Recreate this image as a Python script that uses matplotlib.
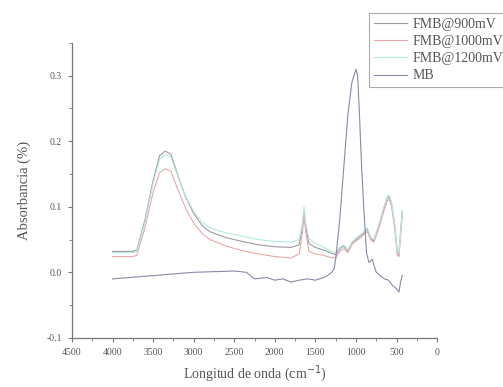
import matplotlib
matplotlib.use("Agg")
import matplotlib.pyplot as plt
from matplotlib.ticker import MultipleLocator

plt.rcParams['font.family'] = ['Liberation Serif', 'DejaVu Serif']

# --- FMB spectra (shared wavenumber grid) ---
wn_fmb = [4000, 3750, 3700, 3600, 3500, 3420, 3350, 3280, 3200, 3100, 3000, 2900, 2800,
          2600, 2400, 2200, 2000, 1800, 1700, 1660, 1640, 1620, 1580, 1500, 1400, 1300,
          1250, 1200, 1150, 1100, 1050, 1000, 950, 900, 860, 820, 780, 720, 660, 620,
          590, 560, 520, 490, 470, 450, 430]

fmb_900 = [0.032, 0.032, 0.034, 0.080, 0.140, 0.178, 0.185, 0.180, 0.150, 0.115, 0.090,
           0.072, 0.062, 0.053, 0.047, 0.042, 0.039, 0.038, 0.042, 0.070, 0.096, 0.070,
           0.044, 0.038, 0.034, 0.029, 0.027, 0.036, 0.040, 0.032, 0.045, 0.050, 0.055,
           0.060, 0.066, 0.052, 0.048, 0.070, 0.096, 0.112, 0.116, 0.104, 0.068, 0.030,
           0.026, 0.060, 0.092]

fmb_1000 = [0.024, 0.024, 0.026, 0.068, 0.122, 0.152, 0.158, 0.154, 0.128, 0.098, 0.075,
            0.060, 0.050, 0.040, 0.033, 0.028, 0.024, 0.022, 0.028, 0.060, 0.090, 0.062,
            0.032, 0.028, 0.026, 0.022, 0.022, 0.032, 0.036, 0.030, 0.042, 0.048, 0.052,
            0.058, 0.062, 0.050, 0.046, 0.066, 0.092, 0.108, 0.112, 0.100, 0.064, 0.026,
            0.024, 0.056, 0.088]

fmb_1200 = [0.030, 0.030, 0.032, 0.076, 0.136, 0.172, 0.180, 0.176, 0.148, 0.116, 0.093,
            0.077, 0.068, 0.060, 0.055, 0.050, 0.047, 0.046, 0.050, 0.074, 0.100, 0.076,
            0.052, 0.044, 0.038, 0.032, 0.030, 0.038, 0.042, 0.034, 0.046, 0.052, 0.057,
            0.062, 0.068, 0.054, 0.050, 0.072, 0.098, 0.114, 0.118, 0.106, 0.070, 0.032,
            0.028, 0.062, 0.094]

# --- MB spectrum ---
wn_mb = [4000, 3500, 3000, 2500, 2350, 2250, 2100, 2000, 1900, 1800, 1700, 1600, 1500,
         1400, 1350, 1300, 1270, 1250, 1200, 1150, 1100, 1050, 1000, 980, 960, 930, 900,
         870, 840, 800, 750, 700, 650, 600, 550, 500, 470, 450, 430]

mb = [-0.010, -0.005, 0.000, 0.002, 0.000, -0.010, -0.008, -0.012, -0.010, -0.015,
      -0.012, -0.010, -0.012, -0.008, -0.005, 0.000, 0.005, 0.020, 0.080, 0.160, 0.240,
      0.290, 0.310, 0.300, 0.250, 0.160, 0.090, 0.030, 0.015, 0.020, 0.000, -0.005,
      -0.010, -0.012, -0.020, -0.025, -0.030, -0.015, -0.005]

fig = plt.figure(figsize=(5.03, 3.87), dpi=100)
ax = fig.add_axes([0.143, 0.127, 0.726, 0.762])

ax.plot(wn_fmb, fmb_900, color='#9a9aa6', lw=0.8, label='FMB@900mV')
ax.plot(wn_fmb, fmb_1000, color='#eaa8a8', lw=0.8, label='FMB@1000mV')
ax.plot(wn_fmb, fmb_1200, color='#b4eadb', lw=0.8, label='FMB@1200mV')
ax.plot(wn_mb, mb, color='#8c88a8', lw=0.8, label='MB')

ax.set_xlim(4500, 0)
ax.set_ylim(-0.1, 0.35)
ax.xaxis.set_major_locator(MultipleLocator(500))
ax.xaxis.set_minor_locator(MultipleLocator(250))
ax.yaxis.set_major_locator(MultipleLocator(0.1))
ax.yaxis.set_minor_locator(MultipleLocator(0.05))
ax.set_yticks([-0.1, 0.0, 0.1, 0.2, 0.3])
ax.set_yticklabels(['-0.1', '0.0', '0.1', '0.2', '0.3'])

for side in ['top', 'right']:
    ax.spines[side].set_visible(False)
for side in ['left', 'bottom']:
    ax.spines[side].set_color('#777777')
    ax.spines[side].set_linewidth(0.9)

ax.tick_params(which='both', colors='#777777', labelcolor='#555555', labelsize=7)
ax.tick_params(which='major', length=3, width=0.8, pad=4)
ax.tick_params(which='minor', length=2, width=0.6)

ax.set_xlabel('Longitud de onda (cm$^{-1}$)', fontsize=10, color='#555555', labelpad=5)
ax.set_ylabel('Absorbancia (%)', fontsize=10.5, color='#555555', labelpad=11)

leg = fig.legend(loc='upper left', bbox_to_anchor=(369 / 503, 1 - 13 / 387),
                 fontsize=10, frameon=True, fancybox=False, handlelength=2.4,
                 labelspacing=0.3, borderpad=0.35, borderaxespad=0, handletextpad=0.4)
leg.get_frame().set_edgecolor('#999999')
leg.get_frame().set_linewidth(0.8)
for t in leg.get_texts():
    t.set_color('#555555')

fig.savefig('out.png', dpi=100)
